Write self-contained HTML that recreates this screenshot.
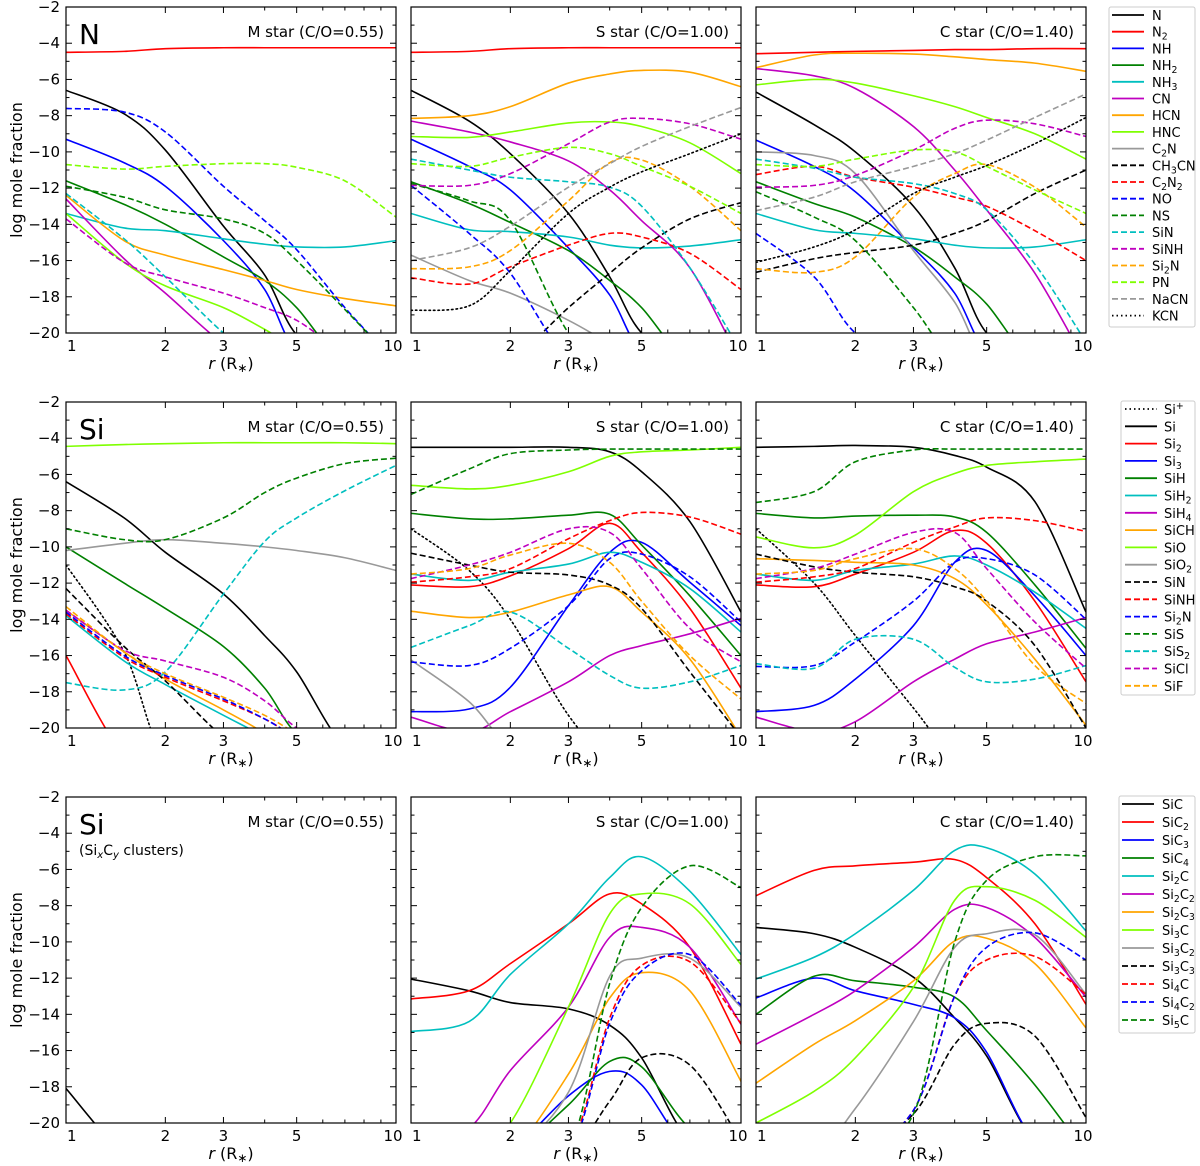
<!DOCTYPE html>
<html><head><meta charset="utf-8"><title>Mole fractions</title>
<style>
html,body{margin:0;padding:0;background:#fff;overflow:hidden;}
svg{display:block;overflow:hidden;font-family:"DejaVu Sans","Liberation Sans",sans-serif;}
</style></head>
<body>
<svg id="fig" width="1200" height="1166" viewBox="0 0 1200 1166" xmlns="http://www.w3.org/2000/svg"></svg>
<script>
// ---- radial grid (r in R*) shared by all series ----
const R=[1,1.5,2,3,4,5,7,10];
const yTicks=[-2,-4,-6,-8,-10,-12,-14,-16,-18,-20];
const xTickLabels=[1,2,3,5,10];
const starLabels=["M star (C/O=0.55)","S star (C/O=1.00)","C star (C/O=1.40)"];

// ---- Row 1: N, M star ----
const nM_N=[-6.6,-7.9,-9.9,-14.1,-16.8,-20.1,-25,-30];
const nM_N2=[-4.5,-4.45,-4.3,-4.25,-4.25,-4.25,-4.25,-4.25];
const nM_NH=[-9.3,-10.6,-11.9,-14.9,-17.6,-21,-26,-30];
const nM_NH2=[-11.6,-12.9,-14,-15.8,-17.1,-18.6,-22,-26];
const nM_NH3=[-13.4,-14.2,-14.35,-14.8,-15.1,-15.25,-15.25,-14.9];
const nM_CN=[-12.6,-15.9,-17.8,-20.6,-23,-25,-28,-30];
const nM_HCN=[-12.4,-14.9,-15.7,-16.5,-17.1,-17.6,-18.1,-18.5];
const nM_HNC=[-13.4,-16.1,-17.4,-18.6,-19.8,-20.8,-23,-26];
const nM_NO=[-7.6,-7.8,-8.9,-11.9,-13.8,-15.4,-18.6,-24];
const nM_NS=[-11.9,-12.5,-13.2,-13.7,-14.5,-16,-18.7,-24];
const nM_SiN=[-12.3,-14.8,-16.9,-20,-23,-25,-28,-30];
const nM_SiNH=[-13.7,-16.1,-16.9,-17.8,-18.6,-19.3,-21,-23];
const nM_PN=[-10.7,-10.95,-10.8,-10.65,-10.65,-10.85,-11.6,-13.6];
// ---- Row 1: N, S star ----
const nS_N=[-6.6,-8.3,-10.1,-13.4,-16.9,-20,-25,-30];
const nS_N2=[-4.5,-4.45,-4.3,-4.25,-4.25,-4.25,-4.25,-4.25];
const nS_NH=[-9.3,-10.8,-12.1,-15.3,-17.9,-21,-26,-30];
const nS_NH2=[-11.65,-12.85,-13.9,-15.45,-17.1,-18.6,-22,-26];
const nS_NH3=[-13.4,-14.3,-14.4,-14.7,-15.15,-15.3,-15.2,-14.85];
const nS_CN=[-8.3,-8.9,-9.45,-10.5,-12.1,-13.8,-16.4,-22];
const nS_HCN=[-8.15,-8,-7.5,-6.2,-5.7,-5.5,-5.6,-6.4];
const nS_HNC=[-9.15,-9.2,-8.9,-8.4,-8.35,-8.6,-9.5,-11.2];
const nS_C2N=[-15.7,-17.1,-17.8,-19.3,-20.6,-22,-25,-28];
const nS_CH3CN=[-24,-23,-21.5,-18.6,-16.7,-15.3,-13.7,-12.8];
const nS_C2N2=[-16.95,-17.3,-16.35,-15.15,-14.5,-14.7,-15.6,-17.6];
const nS_NO=[-11.85,-14.5,-16.7,-21.5,-25,-28,-30,-30];
const nS_NS=[-11.75,-12.7,-13.8,-20,-25,-28,-30,-30];
const nS_SiN=[-10.4,-11,-11.4,-11.65,-11.95,-13,-16.4,-21];
const nS_SiNH=[-11.85,-11.85,-11.2,-9.55,-8.35,-8.15,-8.45,-9.3];
const nS_Si2N=[-16.45,-16.35,-15.45,-12.7,-10.6,-10.45,-11.9,-14.35];
const nS_PN=[-10.65,-10.8,-10.3,-9.75,-10.1,-10.8,-11.9,-13.4];
const nS_NaCN=[-16,-15.3,-14.1,-11.95,-10.65,-9.7,-8.6,-7.55];
const nS_KCN=[-18.75,-18.5,-16.55,-13.4,-11.95,-11.1,-10.1,-9];
// ---- Row 1: N, C star ----
const nC_N=[-6.7,-8.5,-10,-13,-16.4,-20,-25,-30];
const nC_N2=[-4.58,-4.5,-4.45,-4.4,-4.35,-4.35,-4.3,-4.3];
const nC_NH=[-9.35,-10.8,-12.2,-15.3,-17.8,-21,-26,-30];
const nC_NH2=[-11.65,-12.85,-13.6,-15.25,-16.9,-18.4,-22,-26];
const nC_NH3=[-13.4,-14.3,-14.5,-14.8,-15.15,-15.3,-15.25,-14.85];
const nC_CN=[-5.4,-5.8,-6.5,-8.6,-11,-13.2,-16.7,-22];
const nC_HCN=[-5.35,-4.65,-4.55,-4.6,-4.75,-4.9,-5.1,-5.55];
const nC_HNC=[-6.3,-6,-6.2,-6.9,-7.5,-8.1,-9,-10.4];
const nC_C2N=[-10,-10.2,-11.2,-15.45,-18.3,-21.5,-26,-30];
const nC_CH3CN=[-16.65,-15.9,-15.55,-15.15,-14.5,-13.8,-12.3,-11];
const nC_C2N2=[-11.25,-10.8,-11.4,-11.95,-12.5,-13,-14.35,-16];
const nC_NO=[-14.5,-16.9,-20,-24,-28,-30,-30,-30];
const nC_NS=[-12.2,-13.6,-14.9,-18.6,-24,-28,-30,-30];
const nC_SiN=[-10.4,-10.9,-11.4,-11.75,-12.3,-13.2,-16.2,-20.5];
const nC_SiNH=[-11.95,-11.85,-11.3,-9.9,-8.7,-8.25,-8.45,-9.15];
const nC_Si2N=[-16.45,-16.65,-15.8,-12.5,-11.2,-10.7,-11.95,-14.15];
const nC_PN=[-10.7,-10.8,-10.4,-9.9,-10,-10.8,-12.1,-13.4];
const nC_NaCN=[-13.25,-12.5,-11.65,-10.8,-10.1,-9.35,-8.1,-6.8];
const nC_KCN=[-16.1,-15.25,-14.3,-12.3,-11.4,-10.75,-9.55,-8.1];

// ---- Row 2: Si, M star ----
const sM_Sip=[-11,-15.8,-22,-28,-30,-30,-30,-30];
const sM_Si=[-6.4,-8.4,-10.3,-12.6,-14.9,-16.9,-21,-26];
const sM_Si2=[-16,-21.5,-26,-30,-30,-30,-30,-30];
const sM_SiH=[-10,-12,-13.4,-15.5,-17.8,-20.3,-24,-28];
const sM_SiH2=[-13.8,-16.3,-17.6,-19.3,-20.5,-22,-25,-28];
const sM_SiCH=[-13.5,-15.8,-17.3,-19,-20.3,-22,-25,-28];
const sM_SiO=[-4.45,-4.35,-4.3,-4.25,-4.25,-4.25,-4.25,-4.3];
const sM_SiO2=[-10.2,-9.8,-9.6,-9.8,-10,-10.2,-10.6,-11.3];
const sM_SiN=[-12.3,-15.5,-17.4,-20.5,-23,-26,-30,-30];
const sM_SiNH=[-13.7,-16.1,-17.2,-18.5,-19.5,-20.5,-23,-26];
const sM_Si2N=[-13.6,-16,-17.1,-18.4,-19.5,-20.5,-23,-26];
const sM_SiS=[-9,-9.6,-9.6,-8.4,-7,-6.2,-5.4,-5.1];
const sM_SiS2=[-17.5,-17.9,-16.9,-12.6,-9.7,-8.4,-6.9,-5.5];
const sM_SiCl=[-13.5,-15.7,-16.3,-17.2,-18.5,-20,-23,-26];
const sM_SiF=[-13.3,-15.8,-17,-18.3,-19.3,-20.3,-24,-27];
// ---- Row 2: Si, S star ----
const sS_Sip=[-9,-11.3,-14,-19.3,-24,-28,-30,-30];
const sS_Si=[-4.5,-4.5,-4.5,-4.5,-4.75,-5.85,-8.6,-13.6];
const sS_Si2=[-12.1,-12.2,-11.6,-10.1,-8.7,-10.3,-13.4,-17.8];
const sS_Si3=[-19.1,-18.95,-17.75,-13.25,-10.3,-9.75,-11.95,-14.35];
const sS_SiH=[-8.15,-8.45,-8.45,-8.25,-8.2,-9.9,-12.7,-16];
const sS_SiH2=[-11.5,-11.85,-11.4,-10.95,-10.3,-10.85,-12.3,-14.7];
const sS_SiH4=[-19.4,-20.2,-19.1,-17.45,-16,-15.45,-14.8,-13.95];
const sS_SiCH=[-13.55,-13.9,-13.6,-12.65,-12.2,-13.6,-16.2,-20.5];
const sS_SiO=[-6.6,-6.8,-6.6,-5.85,-5,-4.75,-4.65,-4.5];
const sS_SiO2=[-16.25,-18.55,-21,-25,-28,-30,-30,-30];
const sS_SiN=[-10.35,-11,-11.4,-11.55,-12.1,-13.4,-16.9,-20.5];
const sS_SiNH=[-11.95,-11.65,-11.2,-9.55,-8.55,-8.1,-8.35,-9.3];
const sS_Si2N=[-16.35,-16.55,-15.6,-13.25,-10.65,-10.4,-11.65,-14.15];
const sS_SiS=[-7.1,-5.7,-4.85,-4.65,-4.6,-4.6,-4.6,-4.6];
const sS_SiS2=[-15.55,-14.35,-13.6,-15.6,-17.1,-17.8,-17.45,-16.55];
const sS_SiCl=[-11.75,-11,-10.3,-9,-9.2,-11.2,-14.5,-16.35];
const sS_SiF=[-11.5,-11.2,-10.45,-9.8,-10.85,-13,-16,-18.4];
// ---- Row 2: Si, C star ----
const sC_Sip=[-9,-12,-14.9,-18.9,-22,-26,-30,-30];
const sC_Si=[-4.5,-4.45,-4.4,-4.5,-4.95,-5.6,-7.5,-13.6];
const sC_Si2=[-12.1,-12.2,-11.5,-10.3,-9.1,-9.8,-13,-17.45];
const sC_Si3=[-19.1,-18.75,-17.3,-14.35,-10.85,-10.2,-12.7,-16];
const sC_SiH=[-8.15,-8.4,-8.3,-8.25,-8.35,-9.2,-12.1,-15.6];
const sC_SiH2=[-11.5,-11.85,-11.3,-10.95,-10.5,-11,-12.5,-14.5];
const sC_SiH4=[-19.4,-20.2,-19.65,-17.45,-16.2,-15.35,-14.7,-13.9];
const sC_SiCH=[-10.65,-10.75,-10.85,-11,-11.75,-13.2,-16.2,-19.85];
const sC_SiO=[-9.45,-10.05,-9.35,-6.95,-5.95,-5.5,-5.3,-5.15];
const sC_SiN=[-10.4,-11.1,-11.4,-11.65,-12.2,-13,-15.45,-20];
const sC_SiNH=[-11.95,-11.65,-11.2,-9.75,-8.9,-8.4,-8.55,-9.15];
const sC_Si2N=[-16.6,-16.55,-15.25,-13,-10.85,-10.65,-11.55,-14];
const sC_SiS=[-7.55,-6.95,-5.3,-4.65,-4.6,-4.6,-4.6,-4.6];
const sC_SiS2=[-16.45,-16.7,-15.1,-15.1,-16.65,-17.45,-17.3,-16.55];
const sC_SiCl=[-11.75,-11.2,-10.4,-9.2,-9.2,-11.2,-14.15,-16.7];
const sC_SiF=[-11.5,-11.3,-10.65,-10.1,-11.2,-13,-16.55,-18.65];

// ---- Row 3: SixCy clusters ----
const cM_SiC=[-18.1,-24,-30,-30,-30,-30,-30,-30];
const cS_SiC=[-12.05,-12.7,-13.35,-13.7,-14.6,-16.4,-21,-26];
const cS_SiC2=[-13.15,-12.7,-11.2,-9,-7.35,-7.9,-10.3,-15.65];
const cS_SiC3=[-30,-26,-21.5,-18.5,-17.15,-17.9,-21.5,-26];
const cS_SiC4=[-30,-27,-23,-19,-16.6,-16.9,-20.3,-25];
const cS_Si2C=[-14.95,-14.4,-11.8,-9,-6.45,-5.3,-7.2,-10.7];
const cS_Si2C2=[-26,-20.3,-17.1,-13.6,-9.75,-9.2,-10.3,-14.55];
const cS_Si2C3=[-30,-26,-23.5,-17.3,-13.1,-11.7,-12.7,-17.7];
const cS_Si3C=[-28,-24,-20,-13.6,-8.45,-7.35,-7.9,-11.25];
const cS_Si3C2=[-30,-27,-23,-18.3,-11.9,-10.9,-10.9,-13.6];
const cS_Si3C3=[-30,-30,-28,-24,-18.8,-16.4,-16.8,-21];
const cS_Si4C=[-30,-30,-27,-21.5,-14.2,-11.3,-11.1,-14.5];
const cS_Si4C2=[-30,-30,-28,-23,-14.5,-11.6,-10.7,-13.5];
const cS_Si5C=[-30,-30,-27,-21.5,-12.3,-8.1,-5.8,-7];
const cC_SiC=[-9.2,-9.55,-10.3,-11.95,-14.2,-16.3,-21,-26];
const cC_SiC2=[-7.45,-6.05,-5.8,-5.6,-5.45,-6.45,-9,-13.45];
const cC_SiC3=[-13.1,-12,-12.7,-13.45,-14.2,-16.1,-21,-26];
const cC_SiC4=[-14,-11.9,-12.15,-12.5,-13.05,-14.9,-17.9,-23];
const cC_Si2C=[-12.05,-10.85,-9.55,-7.15,-4.95,-4.8,-6.25,-9.4];
const cC_Si2C2=[-15.65,-14,-12.7,-10.3,-8.2,-8.1,-9.75,-13.05];
const cC_Si2C3=[-17.8,-15.65,-14.35,-12.15,-9.95,-9.8,-11.2,-14.75];
const cC_Si3C=[-20,-18.25,-16.4,-12.5,-7.7,-6.95,-7.7,-9.75];
const cC_Si3C2=[-27,-23,-19.2,-14.4,-10.3,-9.55,-9.6,-12.9];
const cC_Si3C3=[-30,-30,-27,-19.5,-15.65,-14.5,-15.2,-19.7];
const cC_Si4C=[-30,-30,-27,-19.3,-13,-11,-10.8,-12.9];
const cC_Si4C2=[-30,-30,-27,-19.3,-13,-10.3,-9.5,-11];
const cC_Si5C=[-30,-30,-28,-19.5,-10,-6.6,-5.3,-5.25];

// ---- styles ----
const K='#000000',RD='#ff0000',BL='#0000ff',GR='#008000',CY='#00bfbf',MG='#bf00bf',OR='#ffa500',LM='#7fff00',GY='#999999';
const SOL='',DSH='6,3',DOT='1.5,3';

const rowN=[
 {label:'N',color:K,dash:SOL,d:[nM_N,nS_N,nC_N]},
 {label:'N_2',color:RD,dash:SOL,d:[nM_N2,nS_N2,nC_N2]},
 {label:'NH',color:BL,dash:SOL,d:[nM_NH,nS_NH,nC_NH]},
 {label:'NH_2',color:GR,dash:SOL,d:[nM_NH2,nS_NH2,nC_NH2]},
 {label:'NH_3',color:CY,dash:SOL,d:[nM_NH3,nS_NH3,nC_NH3]},
 {label:'CN',color:MG,dash:SOL,d:[nM_CN,nS_CN,nC_CN]},
 {label:'HCN',color:OR,dash:SOL,d:[nM_HCN,nS_HCN,nC_HCN]},
 {label:'HNC',color:LM,dash:SOL,d:[nM_HNC,nS_HNC,nC_HNC]},
 {label:'C_2N',color:GY,dash:SOL,d:[null,nS_C2N,nC_C2N]},
 {label:'CH_3CN',color:K,dash:DSH,d:[null,nS_CH3CN,nC_CH3CN]},
 {label:'C_2N_2',color:RD,dash:DSH,d:[null,nS_C2N2,nC_C2N2]},
 {label:'NO',color:BL,dash:DSH,d:[nM_NO,nS_NO,nC_NO]},
 {label:'NS',color:GR,dash:DSH,d:[nM_NS,nS_NS,nC_NS]},
 {label:'SiN',color:CY,dash:DSH,d:[nM_SiN,nS_SiN,nC_SiN]},
 {label:'SiNH',color:MG,dash:DSH,d:[nM_SiNH,nS_SiNH,nC_SiNH]},
 {label:'Si_2N',color:OR,dash:DSH,d:[null,nS_Si2N,nC_Si2N]},
 {label:'PN',color:LM,dash:DSH,d:[nM_PN,nS_PN,nC_PN]},
 {label:'NaCN',color:GY,dash:DSH,d:[null,nS_NaCN,nC_NaCN]},
 {label:'KCN',color:K,dash:DOT,d:[null,nS_KCN,nC_KCN]}
];
const rowSi=[
 {label:'Si^+',color:K,dash:DOT,d:[sM_Sip,sS_Sip,sC_Sip]},
 {label:'Si',color:K,dash:SOL,d:[sM_Si,sS_Si,sC_Si]},
 {label:'Si_2',color:RD,dash:SOL,d:[sM_Si2,sS_Si2,sC_Si2]},
 {label:'Si_3',color:BL,dash:SOL,d:[null,sS_Si3,sC_Si3]},
 {label:'SiH',color:GR,dash:SOL,d:[sM_SiH,sS_SiH,sC_SiH]},
 {label:'SiH_2',color:CY,dash:SOL,d:[sM_SiH2,sS_SiH2,sC_SiH2]},
 {label:'SiH_4',color:MG,dash:SOL,d:[null,sS_SiH4,sC_SiH4]},
 {label:'SiCH',color:OR,dash:SOL,d:[sM_SiCH,sS_SiCH,sC_SiCH]},
 {label:'SiO',color:LM,dash:SOL,d:[sM_SiO,sS_SiO,sC_SiO]},
 {label:'SiO_2',color:GY,dash:SOL,d:[sM_SiO2,sS_SiO2,null]},
 {label:'SiN',color:K,dash:DSH,d:[sM_SiN,sS_SiN,sC_SiN]},
 {label:'SiNH',color:RD,dash:DSH,d:[sM_SiNH,sS_SiNH,sC_SiNH]},
 {label:'Si_2N',color:BL,dash:DSH,d:[sM_Si2N,sS_Si2N,sC_Si2N]},
 {label:'SiS',color:GR,dash:DSH,d:[sM_SiS,sS_SiS,sC_SiS]},
 {label:'SiS_2',color:CY,dash:DSH,d:[sM_SiS2,sS_SiS2,sC_SiS2]},
 {label:'SiCl',color:MG,dash:DSH,d:[sM_SiCl,sS_SiCl,sC_SiCl]},
 {label:'SiF',color:OR,dash:DSH,d:[sM_SiF,sS_SiF,sC_SiF]}
];
const rowC=[
 {label:'SiC',color:K,dash:SOL,d:[cM_SiC,cS_SiC,cC_SiC]},
 {label:'SiC_2',color:RD,dash:SOL,d:[null,cS_SiC2,cC_SiC2]},
 {label:'SiC_3',color:BL,dash:SOL,d:[null,cS_SiC3,cC_SiC3]},
 {label:'SiC_4',color:GR,dash:SOL,d:[null,cS_SiC4,cC_SiC4]},
 {label:'Si_2C',color:CY,dash:SOL,d:[null,cS_Si2C,cC_Si2C]},
 {label:'Si_2C_2',color:MG,dash:SOL,d:[null,cS_Si2C2,cC_Si2C2]},
 {label:'Si_2C_3',color:OR,dash:SOL,d:[null,cS_Si2C3,cC_Si2C3]},
 {label:'Si_3C',color:LM,dash:SOL,d:[null,cS_Si3C,cC_Si3C]},
 {label:'Si_3C_2',color:GY,dash:SOL,d:[null,cS_Si3C2,cC_Si3C2]},
 {label:'Si_3C_3',color:K,dash:DSH,d:[null,cS_Si3C3,cC_Si3C3]},
 {label:'Si_4C',color:RD,dash:DSH,d:[null,cS_Si4C,cC_Si4C]},
 {label:'Si_4C_2',color:BL,dash:DSH,d:[null,cS_Si4C2,cC_Si4C2]},
 {label:'Si_5C',color:GR,dash:DSH,d:[null,cS_Si5C,cC_Si5C]}
];

// ---- layout ----
const colX=[66,411,756], rowY=[7,402,797], PW=330, PH=326;
const legends=[
 {x:1109,y:7,w:86,h:320,y0:15,dy:16.7,lx:1112,tx:1152,fs:13},
 {x:1121,y:401,w:74,h:294,y0:409,dy:17.3,lx:1125,tx:1164,fs:13},
 {x:1119,y:796,w:76,h:237,y0:804,dy:18,lx:1122,tx:1162,fs:13}
];
const rows=[rowN,rowSi,rowC];
const rowTags=['n','si','sixcy'];

const NS='http://www.w3.org/2000/svg';
const svg=document.getElementById('fig');
function mk(tag,attrs,parent){const e=document.createElementNS(NS,tag);for(const k in attrs)e.setAttribute(k,attrs[k]);(parent||svg).appendChild(e);return e;}
function chemText(parent,str){
  let i=0;
  while(i<str.length){
    const c=str[i];
    if(c==='_'||c==='^'){
      const t=mk('tspan',{'font-size':'0.72em','dy':c==='_'?'3':'-5'},parent);
      t.textContent=str[i+1];
      mk('tspan',{'dy':c==='_'?'-3':'5'},parent).textContent='\u200b';
      i+=2;
    } else {
      let j=i;while(j<str.length&&str[j]!=='_'&&str[j]!=='^')j++;
      const t=mk('tspan',{},parent);t.textContent=str.slice(i,j);i=j;
    }
  }
}
function xS(col,r){return colX[col]+PW*Math.log10(r);}
function yS(row,v){return rowY[row]+PH*(-2-v)/18;}

const defs=mk('defs',{});
for(let row=0;row<3;row++)for(let col=0;col<3;col++){
  const cp=mk('clipPath',{id:'cp'+row+col},defs);
  mk('rect',{x:colX[col],y:rowY[row],width:PW,height:PH},cp);
}

for(let row=0;row<3;row++){
  for(let col=0;col<3;col++){
    const g=mk('g',{});
    
    
    const x0=colX[col],y0=rowY[row];
    const yMax=y0+PH+30;
    const sg=mk('g',{'clip-path':'url(#cp'+row+col+')'},g);
    
    
    rows[row].forEach(s=>{
      const vals=s.d[col]; if(!vals) return;
      const pts=R.map((r,i)=>[xS(col,r),Math.min(yMax,yS(row,vals[i]))]);
      let d='M'+pts[0][0].toFixed(2)+','+pts[0][1].toFixed(2);
      for(let i=0;i<pts.length-1;i++){
        const p0=pts[i-1]||pts[i],p1=pts[i],p2=pts[i+1],p3=pts[i+2]||pts[i+1];
        const c1=[p1[0]+(p2[0]-p0[0])/6,Math.min(yMax,p1[1]+(p2[1]-p0[1])/6)];
        const c2=[p2[0]-(p3[0]-p1[0])/6,Math.min(yMax,p2[1]-(p3[1]-p1[1])/6)];
        d+='C'+c1[0].toFixed(2)+','+c1[1].toFixed(2)+' '+c2[0].toFixed(2)+','+c2[1].toFixed(2)+' '+p2[0].toFixed(2)+','+p2[1].toFixed(2);
      }
      const p=mk('path',{d:d,fill:'none',stroke:s.color,'stroke-width':1.6,'stroke-dasharray':s.dash||'none','stroke-linecap':s.dash===DOT?'round':'butt'},sg);
      
      
    });
    const fr=mk('rect',{x:x0,y:y0,width:PW,height:PH,fill:'none',stroke:'#000','stroke-width':1.2},g);
    
    
    for(let v=-2;v>=-20;v--){
      const yy=yS(row,v),L=(v%2===0)?6:3.5;
      mk('line',{x1:x0,x2:x0+L,y1:yy,y2:yy,stroke:'#000','stroke-width':1},g);
      mk('line',{x1:x0+PW,x2:x0+PW-L,y1:yy,y2:yy,stroke:'#000','stroke-width':1},g);
    }
    for(let r=2;r<=9;r++){
      const xx=xS(col,r),L=xTickLabels.includes(r)?6:3.5;
      mk('line',{x1:xx,x2:xx,y1:y0+PH,y2:y0+PH-L,stroke:'#000','stroke-width':1},g);
      mk('line',{x1:xx,x2:xx,y1:y0,y2:y0+L,stroke:'#000','stroke-width':1},g);
    }
    xTickLabels.forEach(r=>{
      let xx=xS(col,r),anchor='middle';
      if(r===1){xx+=1;anchor='start';}
      if(r===10){xx-=3;}
      const t=mk('text',{x:xx,y:y0+PH+18,'font-size':15,'text-anchor':anchor},g);
      t.textContent=String(r);
      
      
    });
    const xt=mk('text',{x:x0+PW/2,y:y0+PH+36,'font-size':16,'text-anchor':'middle'},g);
    
    
    const ti=mk('tspan',{'font-style':'italic'},xt);ti.textContent='r';
    const t2=mk('tspan',{},xt);t2.textContent=' (R';
    const t3=mk('tspan',{'font-size':'0.75em',dy:3},xt);t3.textContent='\u2217';
    const t4=mk('tspan',{dy:-3},xt);t4.textContent=')';
    const sl=mk('text',{x:x0+PW-12,y:y0+30,'font-size':15,'text-anchor':'end'},g);
    sl.textContent=starLabels[col];
    
    
    if(col===0){
      yTicks.forEach(v=>{
        const t=mk('text',{x:x0-6,y:yS(row,v)+5,'font-size':15,'text-anchor':'end'},g);
        t.textContent='\u2212'+String(-v);
        
        
      });
      const yl=mk('text',{x:22,y:y0+PH/2,'font-size':16,'text-anchor':'middle',transform:'rotate(-90 22 '+(y0+PH/2)+')'},g);
      yl.textContent='log mole fraction';
      
      
      const el=mk('text',{x:x0+13,y:y0+37,'font-size':28},g);
      el.textContent=row===0?'N':'Si';
      
      
      if(row===2){
        const sub=mk('text',{x:x0+13,y:y0+58,'font-size':14},g);
        
        
        const a=mk('tspan',{},sub);a.textContent='(Si';
        const b=mk('tspan',{'font-size':'0.72em',dy:3,'font-style':'italic'},sub);b.textContent='x';
        const c=mk('tspan',{dy:-3},sub);c.textContent='C';
        const d2=mk('tspan',{'font-size':'0.72em',dy:3,'font-style':'italic'},sub);d2.textContent='y';
        const e=mk('tspan',{dy:-3},sub);e.textContent=' clusters)';
      }
    }
  }
  const L=legends[row];
  const lg=mk('g',{});
  
  
  mk('rect',{x:L.x,y:L.y,width:L.w,height:L.h,fill:'#fff',stroke:'#cccccc','stroke-width':1,rx:2},lg);
  rows[row].forEach((s,i)=>{
    const yy=L.y0+i*L.dy;
    const eg=mk('g',{},lg);
    
    
    mk('line',{x1:L.lx,x2:L.lx+32,y1:yy,y2:yy,stroke:s.color,'stroke-width':1.8,'stroke-dasharray':s.dash||'none'},eg);
    const t=mk('text',{x:L.tx,y:yy+5,'font-size':L.fs},eg);
    chemText(t,s.label);
  });
}
</script>
</body></html>
